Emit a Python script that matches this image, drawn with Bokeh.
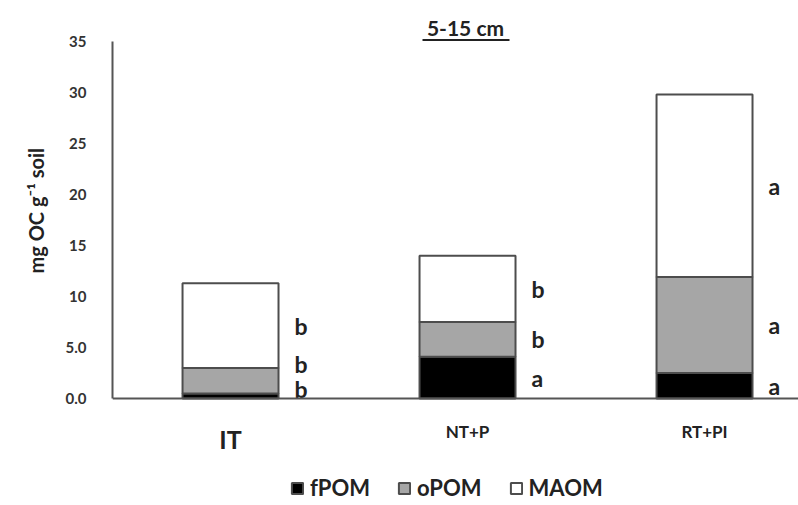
from bokeh.plotting import figure
from bokeh.models import (Range1d, FixedTicker, Span, Title, Legend, LegendItem,
                          ColumnDataSource, BoxAnnotation)
from bokeh.core.properties import value
from bokeh.embed import file_html
from bokeh.resources import INLINE

# ---- data ----
categories = ["IT", "NT+P", "RT+PI"]
fractions = ["fPOM", "oPOM", "MAOM"]
fPOM = [0.5, 4.1, 2.5]
oPOM = [2.5, 3.4, 9.4]
MAOM = [8.3, 6.5, 17.9]
letters_fPOM = ["b", "a", "a"]
letters_oPOM = ["b", "b", "a"]
letters_MAOM = ["b", "b", "a"]
y_ticks = [0, 5, 10, 15, 20, 25, 30, 35]
y_tick_labels = ["0.0", "5.0", "10", "15", "20", "25", "30", "35"]
colors = ["#000000", "#a6a6a6", "#ffffff"]

FONT = "Lato"
W, H = 798, 505
LEFT = 112
BASE_PX = 398          # pixel row of y=0
PX_PER_UNIT = 10.2
x0 = 0.502
x1 = x0 + (W - LEFT) / 237.0
y_top = (BASE_PX) / PX_PER_UNIT
y_bot = -(H - BASE_PX) / PX_PER_UNIT

def px_to_x(px):
    return x0 + (px - LEFT) / 237.0

def py_to_y(py):
    return (BASE_PX - py) / PX_PER_UNIT

p = figure(width=W, height=H, output_backend="svg", toolbar_location=None,
           x_range=Range1d(x0, x1), y_range=Range1d(y_bot, y_top),
           min_border_left=LEFT, min_border_right=0, min_border_top=0,
           min_border_bottom=0, outline_line_color=None)
p.xgrid.visible = False
p.ygrid.visible = False
p.xaxis.visible = False
p.background_fill_color = "white"
p.border_fill_color = "white"

yax = p.yaxis[0]
yax.bounds = (0, 35)
yax.ticker = FixedTicker(ticks=y_ticks)
yax.major_label_overrides = {t: l for t, l in zip(y_ticks, y_tick_labels)}
yax.major_tick_line_color = None
yax.minor_tick_line_color = None
yax.axis_line_color = "#555555"
yax.axis_line_width = 2
yax.major_label_text_font = FONT
yax.major_label_text_font_style = "bold"
yax.major_label_text_font_size = "15px"
yax.major_label_text_color = "#333333"
yax.major_label_standoff = 20

xs = [i + 1 for i in range(len(categories))]
src = ColumnDataSource(dict(x=xs, fPOM=fPOM, oPOM=oPOM, MAOM=MAOM))
rends = p.vbar_stack(fractions, x="x", width=0.405, source=src, color=colors,
                     line_color="#4d4d4d", line_width=2)
for r, c in zip(rends, colors):
    r.glyph.fill_color = c

p.add_layout(Span(location=0, dimension="width", line_color="#555555", line_width=2))

# significance letters
lx, ly, lt = [], [], []
for i in range(len(categories)):
    segs = [fPOM[i], oPOM[i], MAOM[i]]
    labs = [letters_fPOM[i], letters_oPOM[i], letters_MAOM[i]]
    base = 0.0
    prev = None
    for s, lab in zip(segs, labs):
        mid = base + s / 2.0
        yy = max(mid, 0.9) if prev is None else max(mid, prev + 2.5)
        lx.append(xs[i] + 0.27)
        ly.append(yy)
        lt.append(lab)
        prev = yy
        base += s
p.text(x=lx, y=ly, text=lt, text_font=value(FONT), text_font_style="bold",
       text_font_size="23px", text_color="#222222", text_align="left",
       text_baseline="middle")

# category labels
cat_sizes = ["25px", "17px", "17px"]
cat_py = [438, 431, 431]
for xi, c, fs, cy in zip(xs, categories, cat_sizes, cat_py):
    p.text(x=[xi], y=[py_to_y(cy)], text=[c], text_font=value(FONT),
           text_font_style="bold", text_font_size=fs, text_color="#222222",
           text_align="center", text_baseline="middle")

# title with underline
p.text(x=[px_to_x(465)], y=[py_to_y(27)], text=["5-15 cm"], text_font=value(FONT),
       text_font_style="bold", text_font_size="21px", text_color="#222222",
       text_align="center", text_baseline="middle")
p.add_layout(BoxAnnotation(left=px_to_x(422), right=px_to_x(509),
                           bottom=py_to_y(40.5), top=py_to_y(38.5),
                           fill_color="#222222", fill_alpha=1, line_color=None))

# y axis label as a side title
ylab = Title(text="mg OC g\u207b\u00b9 soil", align="left", offset=232,
             standoff=30,
             text_font=FONT, text_font_style="bold", text_font_size="20px",
             text_color="#222222")
p.add_layout(ylab, "left")

# legend
items = [LegendItem(label=f, renderers=[r]) for f, r in zip(fractions, rends)]
legend = Legend(items=items, orientation="horizontal", location=(178, 4),
                label_text_font=FONT, label_text_font_style="bold",
                label_text_font_size="22px", label_text_color="#222222",
                glyph_width=14, glyph_height=14, label_standoff=6, spacing=27,
                background_fill_alpha=0, border_line_color=None)
p.add_layout(legend, "center")

open("out.html", "w").write(file_html(p, INLINE))
